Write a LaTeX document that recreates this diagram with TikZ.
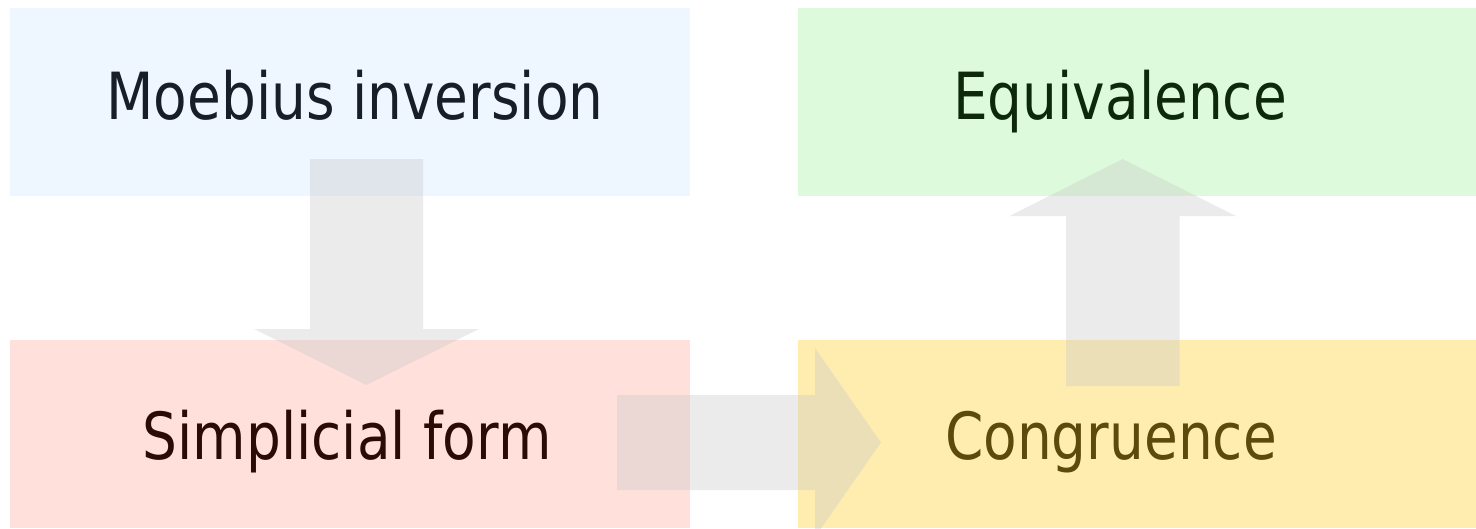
\documentclass[tikz,border=0pt]{standalone}
\usepackage{fontspec}
\newfontfamily\labelfont[FakeStretch=0.845]{DejaVu Sans}
\definecolor{bluebox}{RGB}{238,246,255}
\definecolor{greenbox}{RGB}{221,251,220}
\definecolor{pinkbox}{RGB}{255,224,219}
\definecolor{yellowbox}{RGB}{255,237,176}
\definecolor{bluetext}{RGB}{24,30,40}
\definecolor{greentext}{RGB}{14,40,10}
\definecolor{redtext}{RGB}{42,12,6}
\definecolor{browntext}{RGB}{92,74,12}
\definecolor{arrowgray}{RGB}{200,200,200}
\tikzset{
  panel/.style={rectangle, draw=none, inner sep=0pt, anchor=north west,
    minimum width=680pt, minimum height=188pt},
  label/.style={anchor=base, inner sep=0pt, font=\labelfont\fontsize{65}{72}\selectfont},
  blockarrow/.style={fill=arrowgray, fill opacity=0.36, draw=none}
}
\begin{document}
\begin{tikzpicture}[x=1pt, y=-1pt]
\useasboundingbox (0,0) rectangle (1476,528);
\begin{scope}
\clip (0,0) rectangle (1476,528);
% the four panels
\node[panel, fill=bluebox]   (moeb)  at (10,8)    {};
\node[panel, fill=greenbox]  (equiv) at (798,8)   {};
\node[panel, fill=pinkbox]   (simp)  at (10,340)  {};
\node[panel, fill=yellowbox] (cong)  at (798,340) {};
% block arrows between the panels
\path[blockarrow] (310,159) -- (423,159) -- (423,329) -- (479,329) -- (366.5,385)
  -- (254,329) -- (310,329) -- cycle;
\path[blockarrow] (617,395) -- (815,395) -- (815,348) -- (881,442.5) -- (815,537)
  -- (815,490) -- (617,490) -- cycle;
\path[blockarrow] (1066,386) -- (1066,216) -- (1009.5,216) -- (1122.6,159)
  -- (1236,216) -- (1179.5,216) -- (1179.5,386) -- cycle;
\end{scope}
% panel titles
\node[label, text=bluetext]  (moebT)  at (355,119)  {Moebius inversion};
\node[label, text=greentext] (equivT) at (1120,119) {Equivalence};
\node[label, text=redtext]   (simpT)  at (347,459)  {Simplicial form};
\node[label, text=browntext] (congT)  at (1111,459) {Congruence};
\end{tikzpicture}
\end{document}
